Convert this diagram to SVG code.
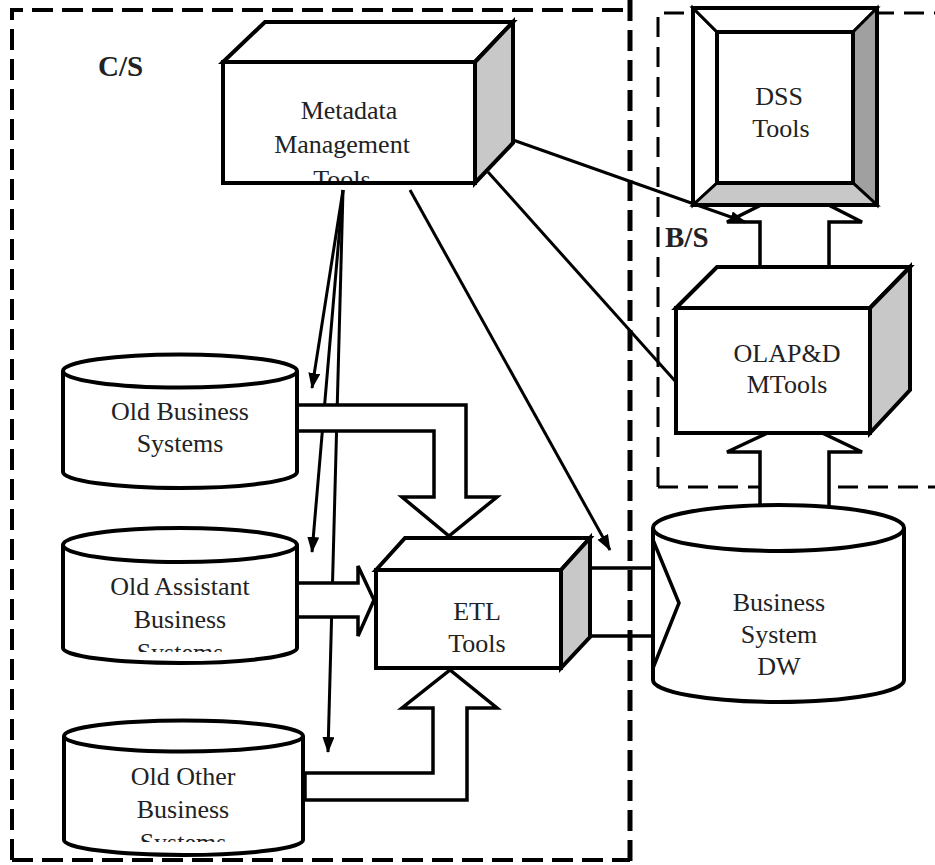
<svg xmlns="http://www.w3.org/2000/svg" width="935" height="865" viewBox="0 0 935 865">
<defs>
<style>
.t{font-family:"Liberation Serif","Times New Roman",serif;font-size:26px;fill:#222;text-anchor:middle}
.lb{font-family:"Liberation Serif","Times New Roman",serif;font-size:29px;font-weight:bold;fill:#222}
.box{fill:#fff;stroke:#000;stroke-width:4;stroke-linejoin:miter}
.side{fill:#c8c8c8;stroke:#000;stroke-width:4;stroke-linejoin:miter}
.cyl{fill:#fff;stroke:#000;stroke-width:4}
.blk{fill:#fff;stroke:#000;stroke-width:3.5;stroke-linejoin:miter}
.thin{fill:none;stroke:#000;stroke-width:3}
.cs{fill:none;stroke:#000;stroke-width:4;stroke-dasharray:21 9}
.bs{fill:none;stroke:#000;stroke-width:3;stroke-dasharray:20 10}
</style>
<marker id="ah" viewBox="0 0 16 12" refX="15" refY="6" markerWidth="16" markerHeight="12" markerUnits="userSpaceOnUse" orient="auto">
<path d="M0,0 L16,6 L0,12 Z" fill="#000"/>
</marker>
<clipPath id="cMeta"><rect x="225" y="64" width="248" height="117"/></clipPath>
<clipPath id="cAssist"><rect x="60" y="520" width="240" height="132"/></clipPath>
<clipPath id="cOther"><rect x="60" y="700" width="250" height="142"/></clipPath>
</defs>

<!-- B/S region -->
<g id="bs-region">
<path class="bs" d="M658,487 L658,13 L935,13"/>
<path class="bs" d="M658,487 L935,487"/>
</g>

<g id="connectors">
<!-- metadata down arrows (behind block arrows) -->
<line class="thin" x1="343" y1="190" x2="312" y2="388" marker-end="url(#ah)"/>
<line class="thin" x1="343" y1="190" x2="312" y2="552" marker-end="url(#ah)"/>
<line class="thin" x1="343" y1="190" x2="328" y2="752" marker-end="url(#ah)"/>
<!-- block arrows -->
<polygon class="blk" points="297,405 466,405 466,497 497,497 449,536 402,497 434,497 434,431 297,431"/>
<polygon class="blk" points="297,583 358,583 358,566 374,600 358,636 358,617 297,617"/>
<polygon class="blk" points="305,773 433,773 433,708 402,708 450,670 497,708 467,708 467,800 305,800"/>
<polygon class="blk" points="590,568 653,568 653,540 679,603 653,668 653,636 590,636"/>
<polygon class="blk" points="760,507 760,452 727,452 795,420 862,452 829,452 829,507"/>
<polygon class="blk" points="760,272 760,222 727,222 795,188 862,222 829,222 829,272"/>
<!-- other thin arrows -->
<line class="thin" x1="410" y1="190" x2="610" y2="550" marker-end="url(#ah)"/>
<line class="thin" x1="488" y1="172" x2="676" y2="382"/>
<line class="thin" x1="513" y1="140" x2="745" y2="222" marker-end="url(#ah)"/>
</g>

<g id="metadata">
<polygon class="box" points="223,62 265,22 513,22 475,62"/>
<polygon class="side" points="475,62 513,22 513,143 475,183"/>
<rect class="box" x="223" y="62" width="252" height="121"/>
<g clip-path="url(#cMeta)">
<text class="t" x="349" y="119">Metadata</text>
<text class="t" x="342" y="153">Management</text>
<text class="t" x="342" y="188">Tools</text>
</g>
</g>

<g id="dss">
<rect x="693" y="8" width="184" height="197" fill="#fff"/>
<polygon points="693,8 717,32 717,183 693,205" fill="#fff" stroke="#000" stroke-width="3"/>
<polygon points="693,8 877,8 853,32 717,32" fill="#fff" stroke="#000" stroke-width="3"/>
<polygon points="877,8 877,205 853,183 853,32" fill="#a0a0a0" stroke="#000" stroke-width="3"/>
<polygon points="693,205 717,183 853,183 877,205" fill="#c8c8c8" stroke="#000" stroke-width="3"/>
<rect x="693" y="8" width="184" height="197" fill="none" stroke="#000" stroke-width="4"/>
<rect x="717" y="32" width="136" height="151" fill="#fff" stroke="#000" stroke-width="4"/>
<text class="t" x="779" y="105">DSS</text>
<text class="t" x="781" y="137">Tools</text>
</g>

<g id="olap">
<polygon class="box" points="676,308 717,267 910,267 870,308"/>
<polygon class="side" points="870,308 910,267 910,390 870,433"/>
<rect class="box" x="676" y="308" width="194" height="125"/>
<text class="t" x="787" y="362">OLAP&amp;D</text>
<text class="t" x="787" y="393">MTools</text>
</g>

<g id="etl">
<polygon class="box" points="376,570 405,538 590,538 561,570"/>
<polygon class="side" points="561,570 590,538 590,637 561,668"/>
<rect class="box" x="376" y="570" width="185" height="98"/>
<text class="t" x="477" y="620">ETL</text>
<text class="t" x="477" y="652">Tools</text>
</g>

<g id="old-business">
<path class="cyl" d="M63,371 A117,16.5 0 0 1 297,371 L297,472 A117,16 0 0 1 63,472 Z"/>
<path class="cyl" fill="none" d="M63,371 A117,16.5 0 0 0 297,371"/>
<text class="t" x="180" y="420">Old Business</text>
<text class="t" x="180" y="452">Systems</text>
</g>

<g id="old-assistant">
<path class="cyl" d="M63,545 A117,17 0 0 1 297,545 L297,648 A117,15 0 0 1 63,648 Z"/>
<path class="cyl" fill="none" d="M63,545 A117,17 0 0 0 297,545"/>
<g clip-path="url(#cAssist)">
<text class="t" x="180" y="595">Old Assistant</text>
<text class="t" x="180" y="628">Business</text>
<text class="t" x="180" y="661">Systems</text>
</g>
</g>

<g id="old-other">
<path class="cyl" d="M64,736 A119.5,15.5 0 0 1 303,736 L303,840 A119.5,15 0 0 1 64,840 Z"/>
<path class="cyl" fill="none" d="M64,736 A119.5,15.5 0 0 0 303,736"/>
<g clip-path="url(#cOther)">
<text class="t" x="183" y="785">Old Other</text>
<text class="t" x="183" y="818">Business</text>
<text class="t" x="183" y="851">Systems</text>
</g>
</g>

<g id="dw">
<path class="cyl" d="M653,528 A125.5,23 0 0 1 904,528 L904,680 A125.5,22 0 0 1 653,680 Z"/>
<path class="cyl" fill="none" d="M653,528 A125.5,23 0 0 0 904,528"/>
<polyline points="653,540 679,603 653,668" fill="none" stroke="#000" stroke-width="3.5"/>
<text class="t" x="779" y="611">Business</text>
<text class="t" x="779" y="643">System</text>
<text class="t" x="779" y="675">DW</text>
</g>

<g id="cs-region">
<path class="cs" d="M12,860 L12,10 L630,10"/>
<path class="cs" d="M12,860 L630,860"/>
<path d="M630,0 L630,865" fill="none" stroke="#000" stroke-width="5" stroke-dasharray="21 9"/>
</g>

<text class="lb" x="98" y="76">C/S</text>
<text class="lb" x="665" y="247">B/S</text>
</svg>
